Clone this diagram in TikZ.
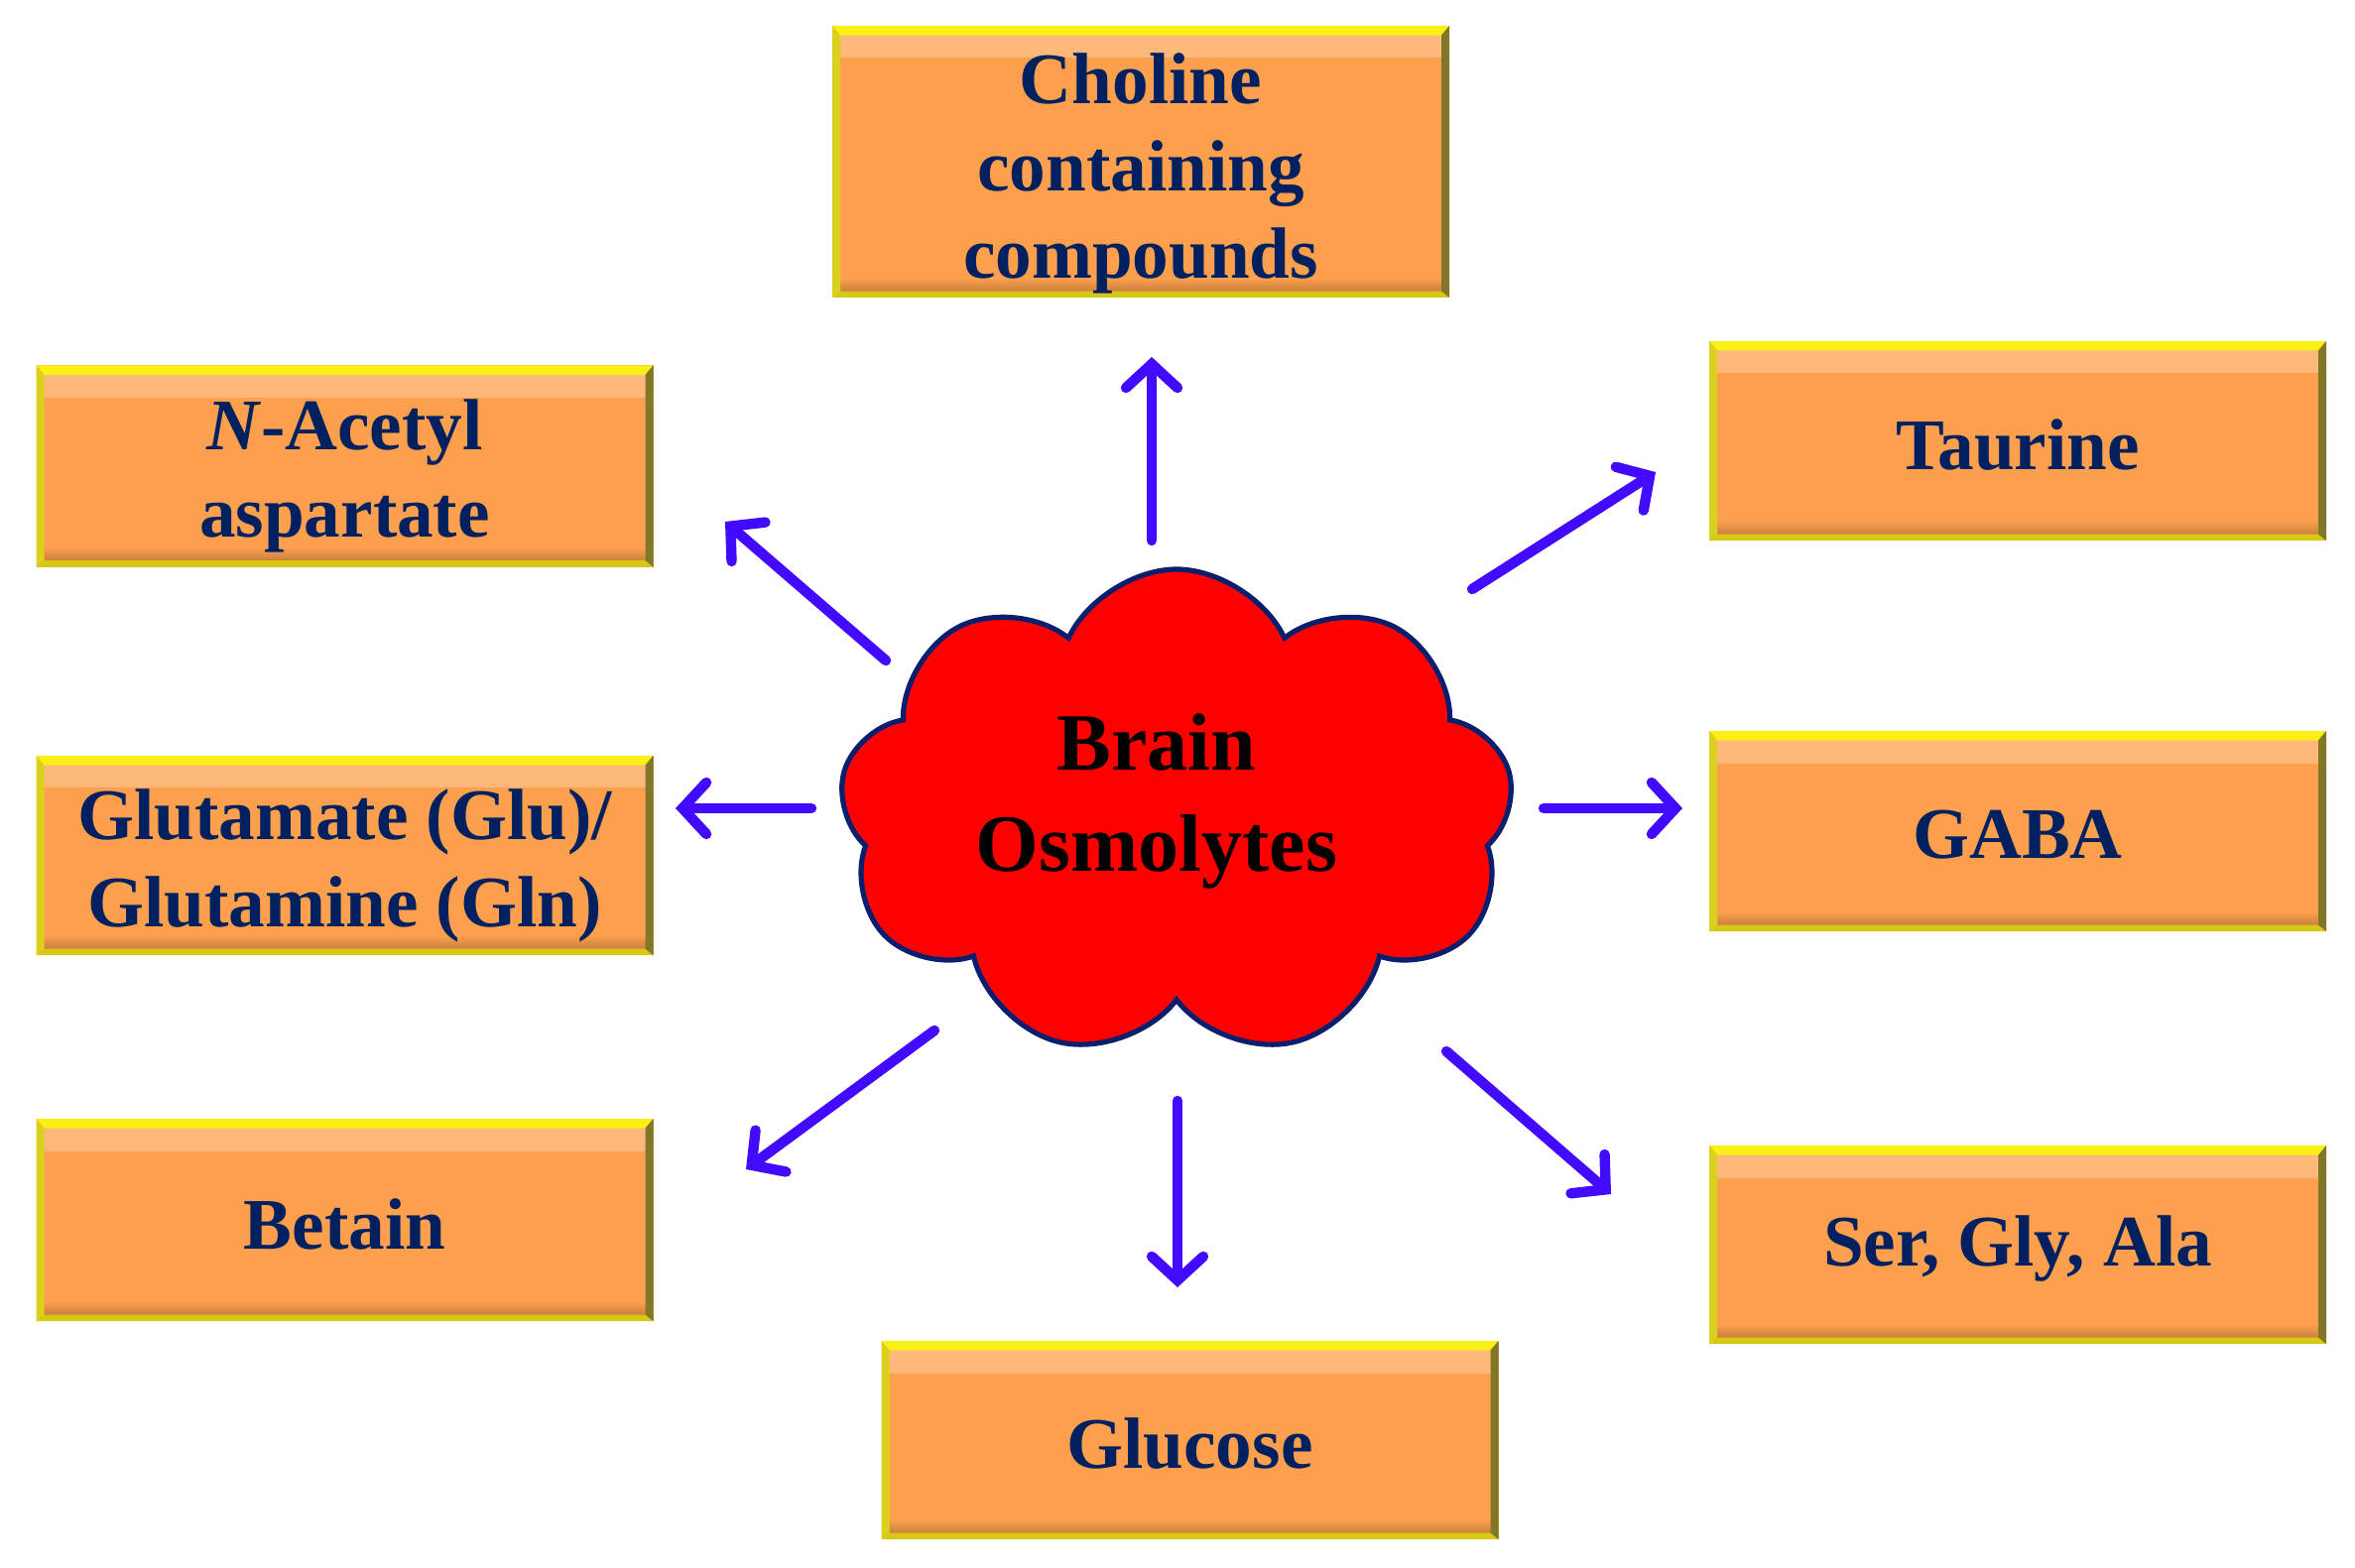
\documentclass[tikz,border=0pt]{standalone}
\usepackage{fontspec}
\setmainfont{Liberation Serif}
\usetikzlibrary{arrows.meta,shapes.symbols}
\definecolor{faceor}{RGB}{252,160,78}
\definecolor{txtnavy}{RGB}{0,32,96}
\definecolor{bvtop}{RGB}{250,240,20}
\definecolor{bvleft}{RGB}{220,208,30}
\definecolor{bvbot}{RGB}{215,200,20}
\definecolor{bvright}{RGB}{130,118,40}
\definecolor{arrblue}{RGB}{66,10,255}
\definecolor{cloudred}{RGB}{255,0,0}
\definecolor{cloudline}{RGB}{10,30,110}
\tikzset{
  bevbox/.style={rectangle, inner sep=0pt, fill=faceor, text=txtnavy,
    align=center, font=\fontsize{18}{22}\selectfont\bfseries,
    path picture={
      \shade[top color=faceor!72!white, bottom color=faceor] ([shift={(2pt,-2.4pt)}]path picture bounding box.north west) rectangle ([shift={(-2pt,-8pt)}]path picture bounding box.north east);
      \shade[top color=faceor, bottom color=faceor!80!black] ([shift={(2pt,5pt)}]path picture bounding box.south west) rectangle ([shift={(-2pt,1.6pt)}]path picture bounding box.south east);
      \fill[bvtop] (path picture bounding box.north west) -- (path picture bounding box.north east)
        -- ([shift={(-2pt,-2.4pt)}]path picture bounding box.north east) -- ([shift={(2pt,-2.4pt)}]path picture bounding box.north west) -- cycle;
      \fill[bvleft] (path picture bounding box.north west) -- ([shift={(2pt,-2.4pt)}]path picture bounding box.north west)
        -- ([shift={(2pt,1.6pt)}]path picture bounding box.south west) -- (path picture bounding box.south west) -- cycle;
      \fill[bvbot] (path picture bounding box.south west) -- (path picture bounding box.south east)
        -- ([shift={(-2pt,1.6pt)}]path picture bounding box.south east) -- ([shift={(2pt,1.6pt)}]path picture bounding box.south west) -- cycle;
      \fill[bvright] (path picture bounding box.north east) -- (path picture bounding box.south east)
        -- ([shift={(-2pt,1.6pt)}]path picture bounding box.south east) -- ([shift={(-2pt,-2.4pt)}]path picture bounding box.north east) -- cycle;
    }},
  osmarrow/.style={draw=arrblue, line width=2.6pt, line cap=round,
    -{Straight Barb[length=6pt,width=13pt,line cap=round]}},
}
\begin{document}
\begin{tikzpicture}[x=0.25pt,y=-0.25pt]
\useasboundingbox (0,0) rectangle (2374,1581);
% boxes (width 622 px, heights vary)
\node[bevbox, minimum width=155.5pt, minimum height=68.5pt] (choline) at (1150,163) {};
\node[bevbox, minimum width=155.5pt, minimum height=50.8pt] (naa) at (347.5,470) {};
\node[bevbox, minimum width=155.5pt, minimum height=50.3pt] (glu) at (347.5,862.5) {};
\node[bevbox, minimum width=155.5pt, minimum height=51pt] (betain) at (347.5,1230) {};
\node[bevbox, minimum width=155.5pt, minimum height=50pt] (glucose) at (1199.5,1452) {};
\node[bevbox, minimum width=155.5pt, minimum height=50.3pt] (taurine) at (2034,444.5) {};
\node[bevbox, minimum width=155.5pt, minimum height=50.5pt] (gaba) at (2034,838) {};
\node[bevbox, minimum width=155.5pt, minimum height=50pt] (sga) at (2034,1255) {};
\tikzset{boxtext/.style={text=txtnavy, align=center, font=\fontsize{18.3}{22}\selectfont\bfseries, inner sep=0pt}}
\node[boxtext] (tcholine) at ([yshift=-3pt]choline.center) {Choline\\containing\\compounds};
\node[boxtext] (tnaa) at ([yshift=-2.5pt]naa.center) {\textit{N}-Acetyl\\aspartate};
\node[boxtext] (tglu) at ([yshift=-2.5pt]glu.center) {Glutamate (Glu)/\\Glutamine (Gln)};
\node[boxtext] (tbetain) at ([yshift=-1pt]betain.center) {Betain};
\node[boxtext] (tglucose) at ([yshift=-1pt]glucose.center) {Glucose};
\node[boxtext] (ttaurine) at ([yshift=-1pt]taurine.center) {Taurine};
\node[boxtext] (tgaba) at ([yshift=-1pt]gaba.center) {GABA};
\node[boxtext] (tsga) at ([yshift=-1pt]sga.center) {Ser, Gly, Ala};
% cloud
\node[cloud, cloud puffs=9, cloud puff arc=130, aspect=1.3, fill=cloudred, draw=cloudline,
  line width=1.3pt, minimum width=170pt, minimum height=123pt, inner sep=0pt] (cloud) at (1186,820) {};
\node[font=\fontsize{20.5}{25.5}\selectfont\bfseries, align=center, text=black] (brain) at (1166,808) {Brain\\Osmolytes};
% arrow endpoints
\coordinate (s1) at (1161,545);  \coordinate (e1) at (1161,360);
\coordinate (s2) at (893,666);   \coordinate (e2) at (731,526);
\coordinate (s3) at (818,815);   \coordinate (e3) at (681,815);
\coordinate (s4) at (942,1039);  \coordinate (e4) at (752,1179);
\coordinate (s5) at (1187,1110); \coordinate (e5) at (1187,1298);
\coordinate (s6) at (1458,1060); \coordinate (e6) at (1624,1204);
\coordinate (s7) at (1556,815);  \coordinate (e7) at (1696,815);
\coordinate (s8) at (1484,594);  \coordinate (e8) at (1669,476);
\draw[osmarrow] (s1) -- (e1);
\draw[osmarrow] (s2) -- (e2);
\draw[osmarrow] (s3) -- (e3);
\draw[osmarrow] (s4) -- (e4);
\draw[osmarrow] (s5) -- (e5);
\draw[osmarrow] (s6) -- (e6);
\draw[osmarrow] (s7) -- (e7);
\draw[osmarrow] (s8) -- (e8);
\end{tikzpicture}
\end{document}
